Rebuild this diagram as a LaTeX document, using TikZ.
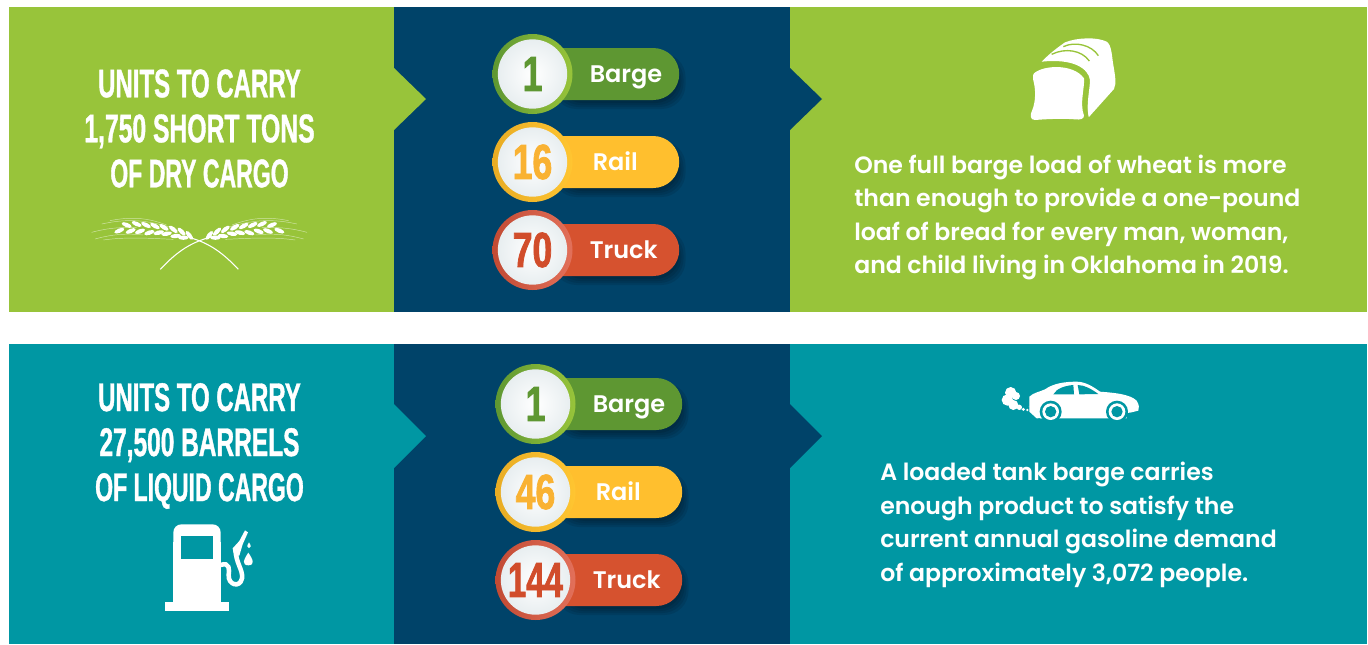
\documentclass[tikz,border=0pt]{standalone}
\usepackage{fontspec}
\setmainfont{Lato}
\newfontfamily\headf[FakeStretch=0.6,FakeBold=0.9]{Liberation Sans Bold}
\newfontfamily\numf[FakeStretch=0.72,FakeBold=1.5]{Liberation Sans Bold}
\newfontfamily\bodyf{Poppins SemiBold}
\definecolor{bandgreen}{HTML}{98C43A}
\definecolor{bandteal}{HTML}{0097A3}
\definecolor{navy}{HTML}{004369}
\definecolor{pillgreen}{HTML}{5E9732}
\definecolor{pillyellow}{HTML}{FFBF2E}
\definecolor{pillred}{HTML}{D6522F}
\definecolor{ringyellow}{HTML}{E8AC24}
\definecolor{ringyellowl}{HTML}{FFC531}
\definecolor{ringred}{HTML}{C24A33}
\definecolor{ringredl}{HTML}{E2705A}
\definecolor{numyellow}{HTML}{F9B233}
\definecolor{numred}{HTML}{D14D2B}
\definecolor{discgrey}{HTML}{E8EEF0}
\tikzset{
  x=0.75pt,y=-0.75pt,
  heading/.style={text=white,font=\headf\fontsize{30}{33.75}\selectfont,align=center,inner sep=0pt},
  bodytext/.style={text=white,font=\bodyf\fontsize{17.7}{25.1}\selectfont,align=left,anchor=west,inner sep=0pt},
  pillbar/.style={minimum width=110pt,minimum height=39pt,rounded corners=19.5pt,inner sep=0pt,anchor=east},
  ringdisc/.style={circle,minimum size=60pt,inner sep=0pt,shading=axis,shading angle=70},
  innerdisc/.style={circle,minimum size=52pt,inner sep=0pt,inner color=white,outer color=discgrey,
    font=\numf\fontsize{37}{37}\selectfont},
  pilltext/.style={text=white,font=\bodyf\fontsize{18}{18}\selectfont,inner sep=0pt,anchor=base west},
}
% #1 name #2 cx #3 cy #4 pill colour #5 ring dark #6 ring light #7 number colour #8 number #9 label
\newcommand{\unitrow}[9]{
  \foreach \s in {0,2,4,6}{
    \fill[black,opacity=0.09,rounded corners=18pt]
      ({#2+20+\s},{#3-24+\s+3}) rectangle ({#2+146+7-\s},{#3+26+9-\s});
  }
  \node[pillbar,fill=#4] (p#1) at ({#2+147},#3) {};
  \node[ringdisc,left color=#5,right color=#6] (r#1) at (#2,#3) {};
  \node[innerdisc,text=#7] (n#1) at (#2,#3) {#8};
  \node[pilltext] (l#1) at ({#2+57},{#3+8.5}) {#9};
}
% wheat ear in the coordinates of a 3x crop, axis at x=418
\newcommand{\wheatear}{
  \draw[white,line width=0.8pt] (535,238) .. controls (490,190) and (450,160) .. (390,143);
  \foreach \a/\b/\r in {200/105/-22,230/102/-24,258/105/-26,285/108/-28,312/112/-32,340/118/-38,365/125/-45,388/136/-52,
                        178/122/22,212/123/22,240/124/20,268/128/18,296/128/14,320/131/10,347/138/6,370/143/0}{
    \fill[white,rotate around={\r:(\a,\b)}] (\a,\b) ellipse (16 and 6.5);
  }
  \draw[white,opacity=0.55,line width=0.35pt] (95,127) .. controls (150,112) and (190,112) .. (230,112)
     (105,147) .. controls (160,132) and (200,130) .. (250,135)
     (125,102) .. controls (190,88) and (250,85) .. (340,115)
     (150,92) .. controls (210,80) and (260,82) .. (320,105)
     (130,150) .. controls (200,140) and (270,145) .. (340,148);
}
\begin{document}
\begin{tikzpicture}
\useasboundingbox (0,0) rectangle (1368,644);
\fill[white] (0,0) rectangle (1368,644);
% bands
\fill[bandgreen] (9,7) rectangle (1367,312);
\fill[bandteal] (9,344) rectangle (1367,644);
\fill[navy] (394,7) rectangle (790,312);
\fill[navy] (394,344) rectangle (790,644);
% notches
\fill[bandgreen] (394,68) -- (426,99) -- (394,130) -- cycle;
\fill[navy] (790,68) -- (822,99) -- (790,130) -- cycle;
\fill[bandteal] (394,404) -- (426,436) -- (394,468) -- cycle;
\fill[navy] (790,404) -- (822,436) -- (790,468) -- cycle;
% headings
\node[heading] (h1) at (199.5,128.5) {UNITS TO CARRY\\\scalebox{1.03}[1]{1,750 SHORT TONS}\\\scalebox{0.96}[1]{OF DRY CARGO}};
\node[heading] (h2) at (199.5,446) {UNITS TO CARRY\\\scalebox{1.02}[1]{27,500 BARRELS}\\\scalebox{0.96}[1]{OF LIQUID CARGO}};
% rows
\unitrow{a}{532.5}{74}{pillgreen}{pillgreen}{bandgreen}{pillgreen}{1}{Barge}
\unitrow{b}{532.5}{162}{pillyellow}{ringyellow}{ringyellowl}{numyellow}{16}{\hspace*{2.25pt}Rail}
\unitrow{c}{532.5}{250}{pillred}{ringred}{ringredl}{numred}{70}{Truck}
\unitrow{d}{535.5}{404}{pillgreen}{pillgreen}{bandgreen}{pillgreen}{1}{Barge}
\unitrow{e}{535.5}{492}{pillyellow}{ringyellow}{ringyellowl}{numyellow}{46}{\hspace*{2.25pt}Rail}
\unitrow{f}{535.5}{580}{pillred}{ringred}{ringredl}{numred}{\scalebox{0.93}[1]{144}}{Truck}
% body text
\node[bodytext] (t1) at (854,217.5) {One full barge load of wheat is more\\than enough to provide a one-pound\\loaf of bread for every man, woman,\\and child living in Oklahoma in 2019.};
\node[bodytext] (t2) at (880,525) {A loaded tank barge carries\\enough product to satisfy the\\current annual gasoline demand\\of approximately 3,072 people.};
% wheat
\begin{scope}[shift={(199.33,190)},scale=1/3]
  \begin{scope}[shift={(-418,0)}]\wheatear\end{scope}
  \begin{scope}[xscale=-1]\begin{scope}[shift={(-418,0)}]\wheatear\end{scope}\end{scope}
\end{scope}
% bread
\begin{scope}[shift={(1010,25)},scale=1/3]
  \fill[white] (95,110) .. controls (110,95) and (125,80) .. (165,52)
     .. controls (200,38) and (260,35) .. (290,50)
     .. controls (305,60) and (305,90) .. (310,120)
     .. controls (315,150) and (320,175) .. (312,192)
     -- (235,278) .. controls (228,240) and (240,190) .. (240,165)
     .. controls (235,130) and (190,100) .. (95,110) -- cycle;
  \draw[bandgreen,line width=1pt] (125,88) .. controls (165,68) and (215,75) .. (238,108);
  \draw[bandgreen,line width=1pt] (160,65) .. controls (195,48) and (245,60) .. (265,92);
  \draw[bandgreen,line width=1.3pt] (70,135) .. controls (110,110) and (200,105) .. (232,160)
     .. controls (235,190) and (220,230) .. (235,282);
  \fill[white] (72,145) .. controls (100,120) and (190,115) .. (222,160)
     .. controls (225,185) and (208,235) .. (222,272)
     .. controls (222,282) and (210,285) .. (195,283)
     .. controls (160,280) and (110,282) .. (75,285)
     .. controls (60,285) and (60,270) .. (65,260)
     .. controls (80,225) and (75,190) .. (72,175)
     .. controls (68,160) and (68,150) .. (72,145) -- cycle;
\end{scope}
% car
\begin{scope}[shift={(990,370)},scale=1/3]
  \fill[white] (118,80) .. controls (130,68) and (150,65) .. (165,58)
     .. controls (190,40) and (225,35) .. (260,35)
     .. controls (285,35) and (310,50) .. (330,65)
     .. controls (370,68) and (420,72) .. (440,92)
     .. controls (448,105) and (448,115) .. (445,122)
     -- (420,128) -- (140,145) -- (118,125) -- cycle;
  \fill[white] (115,110) -- (150,110) -- (150,145) -- (410,145) -- (410,110) -- cycle;
  \foreach \cx in {182,381}{
    \fill[bandteal] (\cx,125) circle (33);
    \fill[white] (\cx,125) circle (25);
    \fill[bandteal] (\cx,125) circle (17);
  }
  \fill[bandteal] (190,73) .. controls (200,55) and (225,47) .. (250,45) -- (252,73) -- cycle;
  \fill[bandteal] (263,45) .. controls (285,45) and (305,58) .. (325,72) -- (268,73) -- cycle;
  \fill[white] (62,68) circle (17) (78,78) circle (12) (52,90) circle (17) (70,105) circle (15)
     (88,112) circle (8) (100,118) circle (5) (112,120) circle (4);
\end{scope}
% pump
\begin{scope}[shift={(150,515)},scale=1/3]
  \fill[white,rounded corners=6pt] (70,110) -- (70,28) -- (212,28) -- (212,110) -- cycle;
  \fill[white] (70,80) rectangle (212,262);
  \fill[white] (45,262) rectangle (237,287);
  \fill[bandteal] (93,62) rectangle (189,133);
  \draw[white,line width=3.4pt] (212,150) .. controls (240,140) and (238,165) .. (236,180)
     .. controls (234,210) and (270,220) .. (276,190)
     .. controls (280,165) and (255,140) .. (258,105);
  \fill[white] (248,100) -- (268,78) -- (285,46) -- (294,52) -- (278,88) -- (268,122) -- (252,122) -- cycle;
  \fill[white] (297,82) .. controls (303,92) and (305,98) .. (297,99) .. controls (289,98) and (291,92) .. (297,82) -- cycle;
  \fill[white] (295,113) .. controls (310,135) and (315,150) .. (295,151) .. controls (275,150) and (280,135) .. (295,113) -- cycle;
\end{scope}
\end{tikzpicture}
\end{document}
